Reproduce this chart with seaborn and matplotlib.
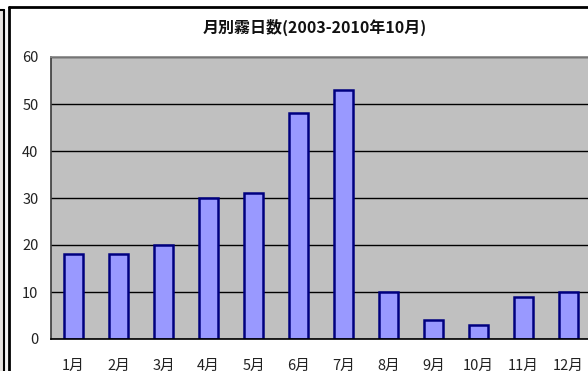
import numpy as np
import pandas as pd
import matplotlib
matplotlib.use("Agg")
import matplotlib.pyplot as plt
from matplotlib.patches import Rectangle
from matplotlib.lines import Line2D
import seaborn as sns

# Monthly fog days, 2003 - Oct 2010
months = ["1月", "2月", "3月", "4月", "5月", "6月", "7月", "8月", "9月", "10月", "11月", "12月"]
fog_days = [18, 18, 20, 30, 31, 48, 53, 10, 4, 3, 9, 10]
y_ticks = [0, 10, 20, 30, 40, 50, 60]
title = "月別霧日数(2003-2010年10月)"

sns.set_theme(style="white")
plt.rcParams["font.family"] = ["Noto Sans CJK JP", "DejaVu Sans"]

W, H = 588, 371
fig = plt.figure(figsize=(W / 100, H / 100), dpi=100)
fig.patch.set_facecolor("white")

def px(x, y):
    return x / W, 1 - y / H

# outer window strip and frames
fig.add_artist(Rectangle(px(0, H), 3.5 / W, (H - 10) / H, transform=fig.transFigure,
                         facecolor="#e6e3e0", edgecolor="none", zorder=0))
fig.add_artist(Rectangle(px(4.5, H), 4 / W, (H - 10) / H, transform=fig.transFigure,
                         facecolor="#f2f2f2", edgecolor="none", zorder=0))
fig.add_artist(Line2D([px(0, 0)[0], px(4, 0)[0]], [px(0, 10)[1]] * 2,
                      transform=fig.transFigure, color="black", lw=1.5))
fig.add_artist(Line2D([px(4, 0)[0]] * 2, [px(0, 10)[1], 0],
                      transform=fig.transFigure, color="black", lw=1.5))
fig.add_artist(Line2D([px(9, 0)[0]] * 2, [px(0, 7)[1], 0],
                      transform=fig.transFigure, color="black", lw=2))
fig.add_artist(Line2D([px(9, 0)[0], 1], [px(0, 7)[1]] * 2,
                      transform=fig.transFigure, color="black", lw=2))

# plot area
left, top, bottom = 51, 57, 339
ax = fig.add_axes([left / W, 1 - bottom / H, 540 / W, (bottom - top) / H])
ax.set_facecolor("#c0c0c0")

df = pd.DataFrame({"month": months, "days": fog_days})
sns.barplot(data=df, x="month", y="days", ax=ax, width=0.42,
            color="#9999ff", edgecolor="#000080", linewidth=1.8, saturation=1)

ax.set_xlim(-0.5, len(months) - 0.5)
ax.set_ylim(0, 60)
ax.set_yticks(y_ticks)
ax.set_axisbelow(True)
ax.yaxis.grid(True, color="black", linewidth=1)
ax.xaxis.grid(False)
ax.set_xlabel("")
ax.set_ylabel("")

ax.tick_params(axis="y", length=0, pad=9, labelsize=10.5, colors="#222222")
ax.tick_params(axis="x", which="major", length=0, pad=14, labelsize=10.5, colors="#222222")
ax.set_xticks(np.arange(0.5, len(months) - 0.5), minor=True)
ax.tick_params(axis="x", which="minor", direction="in", length=4, width=1, color="black")

for name, sp in ax.spines.items():
    sp.set_visible(True)
ax.spines["left"].set_color("#404040")
ax.spines["top"].set_color("#888888")
ax.spines["bottom"].set_color("black")
ax.spines["bottom"].set_linewidth(1.2)
ax.spines["right"].set_visible(False)

fig.text(px(315, 0)[0], px(0, 27)[1], title, ha="center", va="center",
         fontsize=11.5, fontweight="bold", color="#111111")

fig.savefig("out.png", dpi=100)
